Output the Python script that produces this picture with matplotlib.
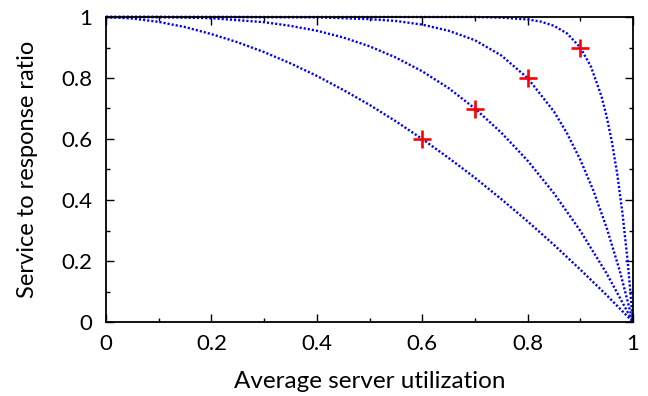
import matplotlib
matplotlib.use("Agg")
import matplotlib.pyplot as plt
from matplotlib.ticker import MultipleLocator

plt.rcParams['font.family'] = ['Lato', 'DejaVu Sans']

# Curves
x1 = [0, 0.05, 0.1, 0.15, 0.2, 0.25, 0.3, 0.35, 0.4, 0.45, 0.5, 0.55, 0.6, 0.65, 0.7, 0.75, 0.8, 0.85, 0.9, 0.95, 1.0]
y1 = [1.0, 0.995, 0.984, 0.967, 0.944, 0.917, 0.885, 0.848, 0.807, 0.761, 0.712, 0.658, 0.6, 0.538, 0.473, 0.403, 0.330, 0.253, 0.172, 0.088, 0.0]

x2 = [0, 0.1, 0.2, 0.3, 0.35, 0.4, 0.45, 0.5, 0.55, 0.6, 0.65, 0.7, 0.75, 0.8, 0.85, 0.9, 0.95, 1.0]
y2 = [1.0, 1.0, 0.996, 0.983, 0.971, 0.955, 0.933, 0.904, 0.867, 0.822, 0.767, 0.7, 0.621, 0.529, 0.422, 0.299, 0.159, 0.0]

x3 = [0, 0.2, 0.4, 0.5, 0.55, 0.6, 0.65, 0.7, 0.75, 0.8, 0.85, 0.875, 0.9, 0.925, 0.95, 0.975, 1.0]
y3 = [1.0, 1.0, 0.999, 0.993, 0.987, 0.975, 0.955, 0.924, 0.874, 0.8, 0.690, 0.618, 0.532, 0.430, 0.309, 0.167, 0.0]

x4 = [0, 0.3, 0.6, 0.7, 0.75, 0.8, 0.825, 0.85, 0.875, 0.9, 0.92, 0.94, 0.95, 0.96, 0.97, 0.98, 0.99, 1.0]
y4 = [1.0, 1.0, 1.0, 1.0, 0.998, 0.992, 0.985, 0.971, 0.946, 0.9, 0.838, 0.741, 0.674, 0.590, 0.486, 0.357, 0.197, 0.0]

# Marked points
px = [0.6, 0.7, 0.8, 0.9]
py = [0.6, 0.7, 0.8, 0.9]

xticks = [0, 0.2, 0.4, 0.6, 0.8, 1]
yticks = [0, 0.2, 0.4, 0.6, 0.8, 1]
tick_labels = ['0', '0.2', '0.4', '0.6', '0.8', '1']

fig = plt.figure(figsize=(6.48, 3.96), dpi=100)
ax = fig.add_axes([106/648, 1-322/396, (633-106)/648, (322-17)/396])

for xs, ys in [(x1, y1), (x2, y2), (x3, y3), (x4, y4)]:
    ax.plot(xs, ys, color='#0000ff', lw=1.7, linestyle=(0, (0.9, 0.85)), clip_on=False)

ax.plot(px, py, linestyle='none', marker='+', color='#ff0000', ms=13, mew=1.9, zorder=5)

ax.set_xlim(0, 1)
ax.set_ylim(0, 1)
ax.set_xticks(xticks)
ax.set_xticklabels(tick_labels)
ax.set_yticks(yticks)
ax.set_yticklabels(tick_labels)
ax.xaxis.set_minor_locator(MultipleLocator(0.1))
ax.yaxis.set_minor_locator(MultipleLocator(0.1))
ax.tick_params(which='both', direction='in', top=True, right=True, labelsize=16, colors='black', width=1)
ax.tick_params(which='major', length=6)
ax.tick_params(axis='x', which='major', pad=9)
ax.tick_params(axis='y', which='major', pad=10)
ax.tick_params(which='minor', length=3)
for s in ax.spines.values():
    s.set_linewidth(1.3)

ax.set_xlabel('Average server utilization', fontsize=17.5)
ax.set_ylabel('Service to response ratio', fontsize=17)
ax.xaxis.set_label_coords(0.5, (1-381/396 - (1-322/396)) / ((322-17)/396), transform=ax.transAxes)
ax.xaxis.label.set_va('center')
ax.yaxis.set_label_coords((28-106)/(633-106), 0.5, transform=ax.transAxes)
ax.yaxis.label.set_va('center')

fig.savefig('out.png', dpi=100)
